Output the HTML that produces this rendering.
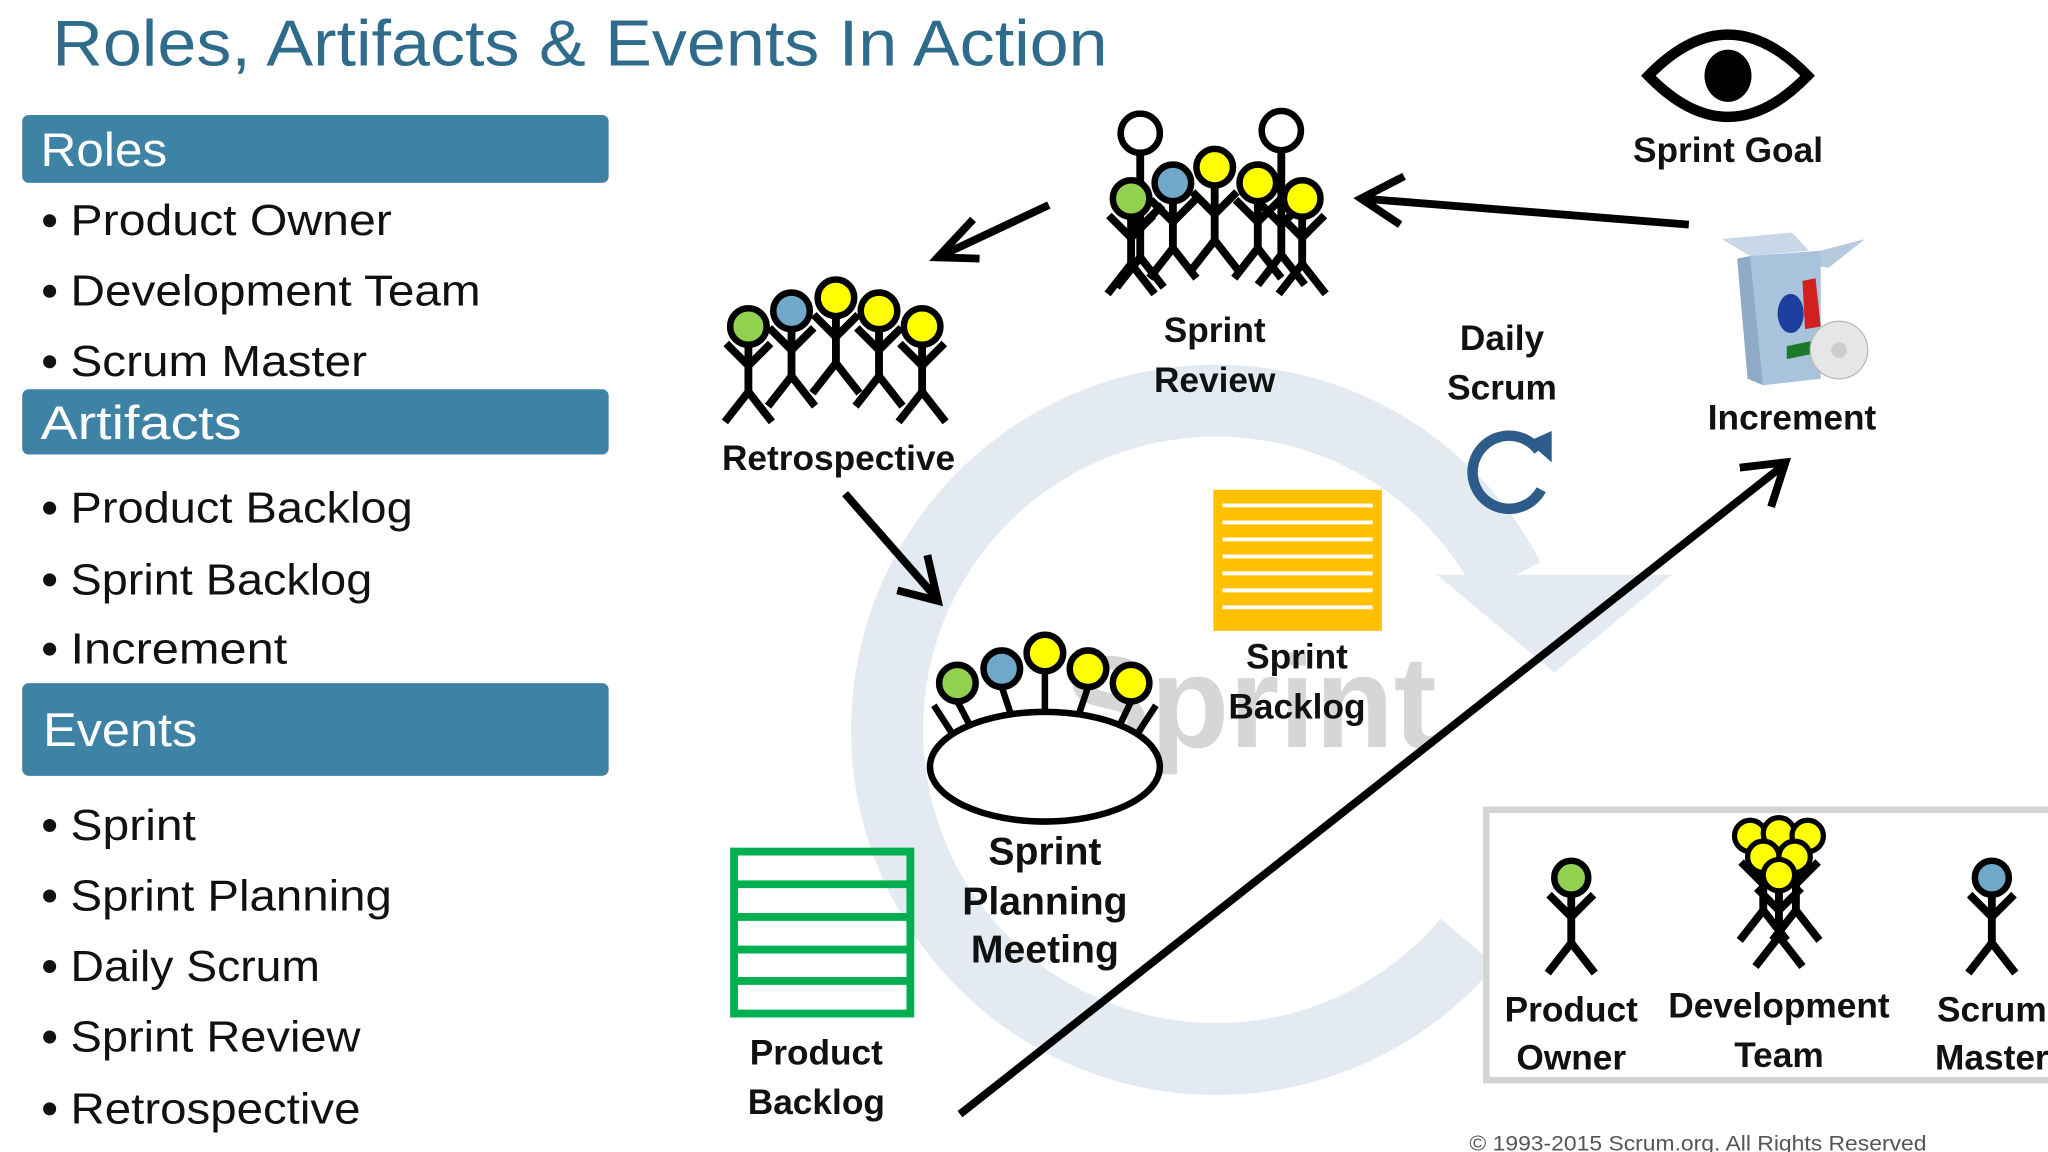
<!DOCTYPE html>
<html><head><meta charset="utf-8"><style>
html,body{margin:0;padding:0;background:#fff;}
svg{display:block;}
text{font-family:"Liberation Sans",sans-serif;}
</style></head><body>
<svg width="2048" height="1152" viewBox="0 0 1568 882" xmlns="http://www.w3.org/2000/svg">
<defs>
<g id="fig" stroke="#000" stroke-width="6" fill="none" stroke-linecap="butt">
<line x1="0" y1="12" x2="0" y2="62"/>
<polyline points="-17,25 0,42 17,25"/>
<polyline points="-18,85 0,62 18,85"/>
</g>
<g id="figT" stroke="#000" stroke-width="6" fill="none">
<line x1="0" y1="12" x2="0" y2="95"/>
<polyline points="-17,55 0,72 17,55"/>
<polyline points="-18,118 0,95 18,118"/>
</g>
</defs>
<rect width="1568" height="882" fill="#fff"/>
<!-- background sprint ring -->
<path d="M 1124 721 A 252 252 0 1 1 1155 443" stroke="#e4eaf1" stroke-width="55" fill="none"/>
<polygon points="1100,440 1280,440 1190,515" fill="#e4eaf1"/>
<text x="815" y="572" font-size="100" font-weight="bold" fill="#d6d6d6" textLength="285" lengthAdjust="spacingAndGlyphs">Sprint</text>

<!-- title -->
<text x="40" y="50" font-size="50" fill="#2f6b8a" textLength="808" lengthAdjust="spacingAndGlyphs">Roles, Artifacts &amp; Events In Action</text>
<!-- sidebar -->
<rect x="17" y="88" width="449" height="52" rx="5" fill="#3e82a6"/>
<text x="31" y="127" font-size="36" fill="#fff" textLength="97" lengthAdjust="spacingAndGlyphs">Roles</text>
<rect x="17" y="298" width="449" height="50" rx="5" fill="#3e82a6"/>
<text x="31" y="336" font-size="36" fill="#fff" textLength="154" lengthAdjust="spacingAndGlyphs">Artifacts</text>
<rect x="17" y="523" width="449" height="71" rx="5" fill="#3e82a6"/>
<text x="33" y="571" font-size="36" fill="#fff" textLength="118" lengthAdjust="spacingAndGlyphs">Events</text>
<g font-size="33" fill="#111">
<text x="54" y="180" textLength="246" lengthAdjust="spacingAndGlyphs">Product Owner</text>
<text x="54" y="234" textLength="314" lengthAdjust="spacingAndGlyphs">Development Team</text>
<text x="54" y="288" textLength="227" lengthAdjust="spacingAndGlyphs">Scrum Master</text>
<text x="54" y="400" textLength="262" lengthAdjust="spacingAndGlyphs">Product Backlog</text>
<text x="54" y="455" textLength="231" lengthAdjust="spacingAndGlyphs">Sprint Backlog</text>
<text x="54" y="508" textLength="166" lengthAdjust="spacingAndGlyphs">Increment</text>
<text x="54" y="643" textLength="96" lengthAdjust="spacingAndGlyphs">Sprint</text>
<text x="54" y="697" textLength="246" lengthAdjust="spacingAndGlyphs">Sprint Planning</text>
<text x="54" y="751" textLength="191" lengthAdjust="spacingAndGlyphs">Daily Scrum</text>
<text x="54" y="805" textLength="222" lengthAdjust="spacingAndGlyphs">Sprint Review</text>
<text x="54" y="860" textLength="222" lengthAdjust="spacingAndGlyphs">Retrospective</text>
</g>
<g fill="#111">
<circle cx="38" cy="169" r="5"/><circle cx="38" cy="223" r="5"/><circle cx="38" cy="277" r="5"/>
<circle cx="38" cy="389" r="5"/><circle cx="38" cy="444" r="5"/><circle cx="38" cy="497" r="5"/>
<circle cx="38" cy="632" r="5"/><circle cx="38" cy="686" r="5"/><circle cx="38" cy="740" r="5"/>
<circle cx="38" cy="794" r="5"/><circle cx="38" cy="849" r="5"/>
</g>

<!-- Sprint Review -->
<use href="#figT" x="873" y="102"/><use href="#figT" x="981" y="100"/>
<circle cx="873" cy="102" r="15" fill="#fff" stroke="#000" stroke-width="5"/>
<circle cx="981" cy="100" r="15" fill="#fff" stroke="#000" stroke-width="5"/>
<use href="#fig" x="866" y="140"/><use href="#fig" x="898" y="128"/><use href="#fig" x="930" y="122"/><use href="#fig" x="963" y="128"/><use href="#fig" x="997" y="140"/>
<g stroke="#000" stroke-width="5">
<circle cx="866" cy="152" r="14" fill="#92d050"/><circle cx="898" cy="140" r="14" fill="#6fa8c8"/><circle cx="930" cy="128" r="14" fill="#ffff00"/><circle cx="963" cy="140" r="14" fill="#ffff00"/><circle cx="997" cy="152" r="14" fill="#ffff00"/>
</g>
<g font-size="27" font-weight="bold" text-anchor="middle" fill="#111">
<text x="930" y="262">Sprint</text><text x="930" y="300">Review</text>
</g>

<!-- Retrospective -->
<use href="#fig" x="573" y="238"/><use href="#fig" x="606" y="226"/><use href="#fig" x="640" y="216"/><use href="#fig" x="673" y="226"/><use href="#fig" x="706" y="238"/>
<g stroke="#000" stroke-width="5">
<circle cx="573" cy="250" r="14" fill="#92d050"/><circle cx="606" cy="238" r="14" fill="#6fa8c8"/><circle cx="640" cy="228" r="14" fill="#ffff00"/><circle cx="673" cy="238" r="14" fill="#ffff00"/><circle cx="706" cy="250" r="14" fill="#ffff00"/>
</g>
<text x="642" y="360" font-size="27" font-weight="bold" text-anchor="middle" fill="#111">Retrospective</text>

<!-- Planning meeting -->
<g stroke="#000" stroke-width="5" fill="none">
<line x1="733" y1="537" x2="745" y2="560"/><line x1="767" y1="526" x2="775" y2="550"/><line x1="800" y1="514" x2="800" y2="548"/><line x1="833" y1="526" x2="825" y2="550"/><line x1="866" y1="537" x2="855" y2="560"/>
<line x1="715" y1="540" x2="728" y2="560"/><line x1="885" y1="540" x2="872" y2="560"/>
</g>
<g stroke="#000" stroke-width="5">
<circle cx="733" cy="523" r="14" fill="#92d050"/><circle cx="767" cy="512" r="14" fill="#6fa8c8"/><circle cx="800" cy="500" r="14" fill="#ffff00"/><circle cx="833" cy="512" r="14" fill="#ffff00"/><circle cx="866" cy="523" r="14" fill="#ffff00"/>
</g>
<ellipse cx="800" cy="587" rx="88" ry="42" fill="#fff" stroke="#000" stroke-width="5"/>
<g font-size="30" font-weight="bold" text-anchor="middle" fill="#111">
<text x="800" y="662">Sprint</text><text x="800" y="700">Planning</text><text x="800" y="737">Meeting</text>
</g>

<!-- Sprint backlog -->
<rect x="929" y="375" width="129" height="108" fill="#ffc000"/>
<g stroke="#fff" stroke-width="3">
<line x1="936" y1="387" x2="1051" y2="387"/><line x1="936" y1="400" x2="1051" y2="400"/><line x1="936" y1="413" x2="1051" y2="413"/><line x1="936" y1="426" x2="1051" y2="426"/><line x1="936" y1="439" x2="1051" y2="439"/><line x1="936" y1="452" x2="1051" y2="452"/><line x1="936" y1="465" x2="1051" y2="465"/>
</g>
<g font-size="27" font-weight="bold" text-anchor="middle" fill="#111">
<text x="993" y="512">Sprint</text><text x="993" y="550">Backlog</text>
</g>

<!-- Product backlog -->
<g stroke="#00b050" stroke-width="6" fill="none">
<rect x="562" y="652" width="135" height="124"/>
<line x1="562" y1="677" x2="697" y2="677"/><line x1="562" y1="702" x2="697" y2="702"/><line x1="562" y1="727" x2="697" y2="727"/><line x1="562" y1="751" x2="697" y2="751"/>
</g>
<g font-size="27" font-weight="bold" text-anchor="middle" fill="#111">
<text x="625" y="815">Product</text><text x="625" y="853">Backlog</text>
</g>

<!-- Sprint goal eye -->
<path d="M1262 58 Q1323 -5 1384 58 Q1323 121 1262 58 Z" fill="#fff" stroke="#000" stroke-width="8"/>
<ellipse cx="1323" cy="58" rx="18" ry="20" fill="#000"/>
<text x="1323" y="124" font-size="27" font-weight="bold" text-anchor="middle" fill="#111">Sprint Goal</text>

<!-- Increment box -->
<polygon points="1318,183 1340,196 1385,192 1372,178" fill="#c8d8e8"/>
<polygon points="1340,196 1394,192 1428,183 1400,205" fill="#b5c9dd"/>
<polygon points="1340,196 1394,192 1394,290 1350,295" fill="#a9c3dc"/>
<polygon points="1330,198 1340,196 1350,295 1338,290" fill="#8eaac6"/>
<ellipse cx="1371" cy="240" rx="10" ry="15" fill="#1d3fa0"/>
<polygon points="1380,215 1390,213 1394,250 1382,252" fill="#d02020"/>
<polygon points="1368,265 1392,260 1392,270 1368,275" fill="#1a7a2a"/>
<circle cx="1408" cy="268" r="22" fill="#e6e6e6" stroke="#bbb" stroke-width="1"/>
<circle cx="1408" cy="268" r="6" fill="#ccc"/>
<text x="1372" y="329" font-size="27" font-weight="bold" text-anchor="middle" fill="#111">Increment</text>

<!-- Daily scrum -->
<g font-size="27" font-weight="bold" text-anchor="middle" fill="#111">
<text x="1150" y="268">Daily</text><text x="1150" y="306">Scrum</text>
</g>
<path d="M 1178 345 A 28 28 0 1 0 1180 375" stroke="#2e5c8a" stroke-width="8" fill="none"/>
<polygon points="1170,338 1188,330 1188,354" fill="#2e5c8a"/>

<!-- arrows -->
<g stroke="#000" stroke-width="6" fill="none">
<line x1="803" y1="157" x2="720" y2="196"/>
<polyline points="745,168 718,197 750,198"/>
<line x1="1293" y1="172" x2="1043" y2="152"/>
<polyline points="1075,135 1042,152 1072,172"/>
<line x1="647" y1="378" x2="718" y2="459"/>
<polyline points="710,425 718,460 687,452"/>
<line x1="735" y1="853" x2="1367" y2="355"/>
<polyline points="1332,358 1367,354 1356,388"/>
</g>

<!-- legend -->
<rect x="1138" y="620" width="440" height="207" fill="#fff" stroke="#d4d4d4" stroke-width="5"/>
<use href="#fig" x="1203" y="660"/>
<circle cx="1203" cy="672" r="13" fill="#92d050" stroke="#000" stroke-width="5"/>
<use href="#fig" x="1525" y="660"/>
<circle cx="1525" cy="672" r="13" fill="#6fa8c8" stroke="#000" stroke-width="5"/>
<use href="#fig" x="1350" y="635"/><use href="#fig" x="1375" y="635"/><use href="#fig" x="1362" y="655"/>
<g stroke="#000" stroke-width="4" fill="#ffff00">
<circle cx="1340" cy="640" r="12"/><circle cx="1362" cy="638" r="12"/><circle cx="1384" cy="640" r="12"/><circle cx="1350" cy="656" r="12"/><circle cx="1374" cy="656" r="12"/><circle cx="1362" cy="670" r="12"/>
</g>
<g font-size="27" font-weight="bold" text-anchor="middle" fill="#111">
<text x="1203" y="782">Product</text><text x="1203" y="819">Owner</text>
<text x="1362" y="779">Development</text><text x="1362" y="817">Team</text>
<text x="1525" y="782">Scrum</text><text x="1525" y="819">Master</text>
</g>
<text x="1125" y="881" font-size="16" fill="#555" textLength="350" lengthAdjust="spacingAndGlyphs">© 1993-2015  Scrum.org. All Rights Reserved</text>
</svg>
</body></html>
